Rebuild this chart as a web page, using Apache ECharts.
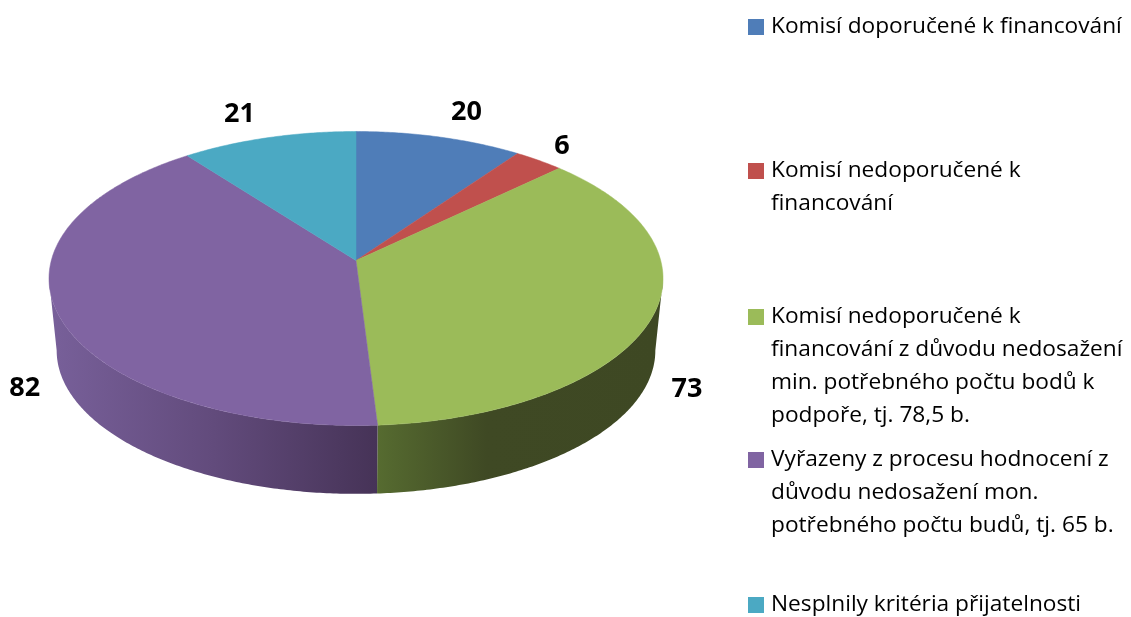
<!DOCTYPE html>
<html>
<head>
<meta charset="utf-8">
<title>Hodnocení projektů</title>
<script src="https://cdn.jsdelivr.net/npm/echarts@6/dist/echarts.min.js"></script>
<style>
    html, body { margin: 0; padding: 0; background: #fff; }
    #main { width: 1131px; height: 617px; }
</style>
</head>
<body>
<div id="main"></div>
<script>
// hodnoty a popisky z grafu
var legendLines = [
    ['Komisí doporučené k financování'],
    ['Komisí nedoporučené k', 'financování'],
    ['Komisí nedoporučené k', 'financování z důvodu nedosažení', 'min. potřebného počtu bodů k', 'podpoře, tj. 78,5 b.'],
    ['Vyřazeny z procesu hodnocení z', 'důvodu nedosažení mon.', 'potřebného počtu budů, tj. 65 b.'],
    ['Nesplnily kritéria přijatelnosti']
];
var values = [20, 6, 73, 82, 21];

// barvy
var colors = ['#4F7DB8', '#C0504D', '#9BBB59', '#8064A2', '#4BA9C3'];
var sideStops = [
    [[0, '#2f4b6e'], [1, '#2f4b6e']],
    [[0, '#73302e'], [1, '#73302e']],
    [[0, '#566B30'], [0.38, '#3F4924'], [1, '#3E4823']],
    [[0, '#78609A'], [0.5, '#624B7C'], [1, '#463357']],
    [[0, '#2d6775'], [1, '#2d6775']]
];
var sideRange = [[356, 663], [356, 663], [378, 663], [49, 378], [49, 356]];

// rozlozeni (perspektiva kolace, pozice legendy a popisku)
var pie = {cx: 356, cy: 260.5, a: 304.7, b: 144.8, k: 0.1224, bottomCy: 333, bottomScale: 0.975};
var labelOffset = [[27, -25], [23, -14], [34, 74], [-33, 75], [-29, -23]];
var legendFirstLine = [27, 171, 317, 460, 605];
var LINE_H = 33;

var total = 0;
for (var n = 0; n < values.length; n++) {
    total += values[n];
}

// bod na obvodu kolace, t je uhel od 12 hodin po smeru hodin
function rim(t, bottom) {
    var den = 1 + pie.k * Math.cos(t);
    var s = bottom ? pie.bottomScale : 1;
    var cy = bottom ? pie.bottomCy : pie.cy;
    return [pie.cx + s * pie.a * Math.sin(t) / den, cy - s * pie.b * Math.cos(t) / den];
}

function arc(from, to, bottom) {
    var pts = [];
    var steps = Math.max(2, Math.ceil((to - from) / 0.01));
    for (var i = 0; i <= steps; i++) {
        pts.push(rim(from + (to - from) * i / steps, bottom));
    }
    return pts;
}

// uhel, kde je kolac nejsirsi; bocni stena je videt jen mezi temito body
var edgeAngle = Math.acos(-pie.k);

function makeRender(idx) {
    return function () {
        var before = 0;
        for (var i = 0; i < idx; i++) {
            before += values[i];
        }
        var start = before / total * Math.PI * 2;
        var end = (before + values[idx]) / total * Math.PI * 2;
        var mid = (start + end) / 2;
        var children = [];

        // bocni stena
        var sFrom = Math.max(start, edgeAngle);
        var sTo = Math.min(end, Math.PI * 2 - edgeAngle);
        if (sTo > sFrom) {
            children.push({
                type: 'polygon',
                z2: 1,
                shape: {points: arc(sFrom, sTo, false).concat(arc(sFrom, sTo, true).reverse())},
                style: {
                    fill: new echarts.graphic.LinearGradient(sideRange[idx][0], 0, sideRange[idx][1], 0,
                        sideStops[idx].map(function (s) {
                            return {offset: s[0], color: s[1]};
                        }), true)
                }
            });
        }

        // vrchni plocha
        children.push({
            type: 'polygon',
            z2: 5,
            shape: {points: [[pie.cx, pie.cy]].concat(arc(start, end, false))},
            style: {fill: colors[idx], stroke: colors[idx], lineWidth: 0.5}
        });

        var p = rim(mid, false);
        children.push({
            type: 'text',
            z2: 10,
            x: p[0] + labelOffset[idx][0],
            y: p[1] + labelOffset[idx][1],
            style: {
                text: String(values[idx]),
                fill: '#000',
                font: 'bold 27px "Open Sans"',
                align: 'center',
                verticalAlign: 'middle'
            }
        });
        return {type: 'group', children: children};
    };
}

var myCharts = echarts.init(document.getElementById('main'), null, {renderer: 'canvas'});
var series1 = [];
var legends = [];
for (var j = 0; j < values.length; j++) {
    var name = legendLines[j].join(' ');
    series1.push({
        type: 'custom',
        name: name,
        coordinateSystem: 'none',
        renderItem: makeRender(j),
        itemStyle: {color: colors[j]},
        animation: false,
        silent: true,
        data: [[values[j]]]
    });
    // prazdne radky pred textem, aby znacka sedela u prvniho radku
    var pad = new Array(legendLines[j].length).join('\n');
    legends.push({
        left: 748,
        top: legendFirstLine[j] - (legendLines[j].length - 0.5) * LINE_H,
        orient: 'vertical',
        icon: 'rect',
        itemWidth: 16,
        itemHeight: 16,
        itemGap: 0,
        selectedMode: false,
        padding: 0,
        data: [name],
        formatter: pad + legendLines[j].join('\n'),
        textStyle: {
            fontFamily: 'Open Sans',
            fontSize: 22.7,
            lineHeight: LINE_H,
            color: '#000',
            padding: [0, 0, 0, 2]
        }
    });
}

myCharts.setOption({
    animation: false,
    legend: legends,
    series: series1
});
</script>
</body>
</html>
